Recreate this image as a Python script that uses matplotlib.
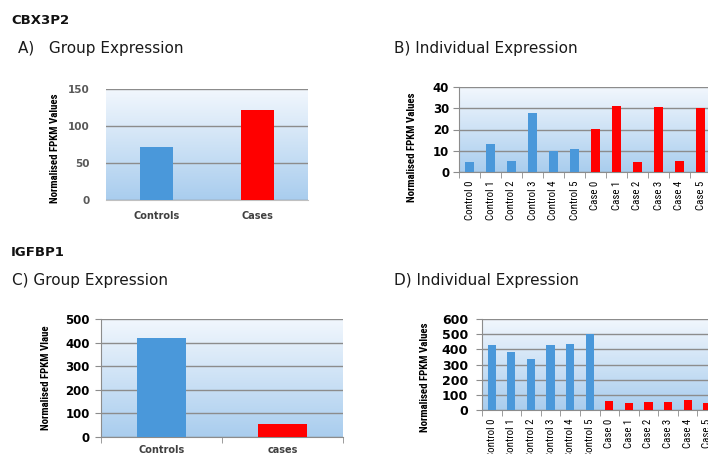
import numpy as np
import matplotlib
matplotlib.use("Agg")
import matplotlib.pyplot as plt
from matplotlib.colors import LinearSegmentedColormap

# ---- data ----
group_labels_a = ["Controls", "Cases"]
group_values_a = [71, 122]

indiv_labels = ["Control 0", "Control 1", "Control 2", "Control 3", "Control 4", "Control 5",
                "Case 0", "Case 1", "Case 2", "Case 3", "Case 4", "Case 5"]
indiv_values_b = [4.7, 13.3, 5.0, 27.8, 10.0, 11.0, 20.4, 31.2, 4.7, 30.4, 5.2, 30.0]

group_labels_c = ["Controls", "cases"]
group_values_c = [418, 57]

indiv_values_d = [429, 385, 335, 429, 436, 501, 59, 46, 53, 53, 66, 46]

BLUE = "#4a98da"
RED = "#ff0000"
GRID = "#8c8c8c"
NARROW = ["Roboto Condensed", "Open Sans Condensed", "DejaVu Sans"]

grad_cmap = LinearSegmentedColormap.from_list("bg", ["#a9cdee", "#f2f7fd"])

W, H = 708, 454
fig = plt.figure(figsize=(W / 100, H / 100), dpi=100)


def px_axes(left, top, right, bottom):
    return fig.add_axes([left / W, 1 - bottom / H, (right - left) / W, (bottom - top) / H])


def gradient(ax):
    g = np.linspace(0, 1, 256).reshape(-1, 1)
    ax.imshow(g, cmap=grad_cmap, origin="lower", aspect="auto",
              extent=[0, 1, 0, 1], transform=ax.transAxes, zorder=0)


def style_common(ax, ymax, step):
    ax.set_ylim(0, ymax)
    ax.set_yticks(np.arange(0, ymax + 1, step))
    ax.yaxis.grid(True, color=GRID, lw=1.0, zorder=1)
    ax.set_axisbelow(False)
    for s in ("top", "right"):
        ax.spines[s].set_visible(False)


# ---- A) group expression, CBX3P2 ----
axA = px_axes(106, 89, 308, 200)
gradient(axA)
xa = np.arange(len(group_labels_a))
axA.bar(xa, group_values_a, width=0.32, color=[BLUE, RED], zorder=3)
axA.set_xlim(-0.5, 1.5)
style_common(axA, 150, 50)
axA.spines["left"].set_visible(False)
axA.spines["bottom"].set_color("#c0c0c0")
axA.set_xticks(xa)
axA.set_xticklabels(group_labels_a, fontsize=7, fontweight="bold", color="#404040")
axA.tick_params(axis="both", length=0)
axA.tick_params(axis="x", pad=8)
axA.tick_params(axis="y", pad=12, labelsize=7.5, labelcolor="#595959")
for t in axA.get_yticklabels():
    t.set_fontweight("bold")


def individual(ax, values, ymax, step, ysize, ypad):
    gradient(ax)
    x = np.arange(len(indiv_labels))
    colors = [BLUE if lab.startswith("Control") else RED for lab in indiv_labels]
    ax.bar(x, values, width=0.42, color=colors, zorder=3)
    ax.set_xlim(-0.5, len(indiv_labels) - 0.5)
    style_common(ax, ymax, step)
    for s in ("left", "bottom"):
        ax.spines[s].set_color(GRID)
    ax.set_xticks(x)
    ax.set_xticklabels(indiv_labels, rotation=90, fontsize=7.8, family=NARROW,
                       fontstretch="condensed")
    ax.set_xticks(np.arange(-0.5, len(indiv_labels)), minor=True)
    ax.tick_params(axis="x", which="major", length=0, pad=6)
    ax.tick_params(axis="x", which="minor", length=4, color=GRID, direction="out")
    ax.tick_params(axis="y", length=4, color=GRID, direction="out", pad=ypad, labelsize=ysize)
    for t in ax.get_yticklabels():
        t.set_fontweight("bold")


# ---- B) individual expression, CBX3P2 ----
axB = px_axes(459, 87, 711, 172)
individual(axB, indiv_values_b, 40, 10, 8.5, 3)

# ---- C) group expression, IGFBP1 ----
axC = px_axes(101, 319, 343, 437)
gradient(axC)
xc = np.arange(len(group_labels_c))
axC.bar(xc, group_values_c, width=0.4, color=[BLUE, RED], zorder=3)
axC.set_xlim(-0.5, 1.5)
style_common(axC, 500, 100)
for s in ("left", "bottom"):
    axC.spines[s].set_color(GRID)
axC.set_xticks(xc)
axC.set_xticklabels(group_labels_c, fontsize=7, fontweight="bold", color="#404040")
axC.set_xticks([-0.5, 0.5, 1.5], minor=True)
axC.tick_params(axis="x", which="major", length=0, pad=6)
axC.tick_params(axis="x", which="minor", length=4, color=GRID)
axC.tick_params(axis="y", length=4, color=GRID, pad=4, labelsize=8.5)
for t in axC.get_yticklabels():
    t.set_fontweight("bold")

# ---- D) individual expression, IGFBP1 ----
axD = px_axes(482, 319, 717, 410)
individual(axD, indiv_values_d, 600, 100, 9, 6)

# ---- y-axis titles ----
ylab_kw = dict(rotation=90, ha="center", va="center", fontsize=7.8,
               fontweight="bold", family=NARROW, fontstretch="condensed")
fig.text(55 / W, 1 - 148 / H, "Normalised FPKM Values", **ylab_kw)
fig.text(412 / W, 1 - 147 / H, "Normalised FPKM Values", **ylab_kw)
fig.text(46 / W, 1 - 378 / H, "Normalised FPKM Vlaue", **ylab_kw)
fig.text(425 / W, 1 - 377 / H, "Normalised FPKM Values", **ylab_kw)

# ---- gene names and panel titles ----
gene_kw = dict(ha="left", va="center", fontsize=9.5, fontweight="bold", color="#111111")
fig.text(11 / W, 1 - 20 / H, "CBX3P2", **gene_kw)
fig.text(11 / W, 1 - 252 / H, "IGFBP1", **gene_kw)

title_kw = dict(ha="left", va="center", fontsize=11, color="#1a1a1a")
fig.text(18 / W, 1 - 49 / H, "A)   Group Expression", **title_kw)
fig.text(394 / W, 1 - 49 / H, "B) Individual Expression", **title_kw)
fig.text(12 / W, 1 - 281 / H, "C) Group Expression", **title_kw)
fig.text(394 / W, 1 - 281 / H, "D) Individual Expression", **title_kw)

fig.savefig("out.png", dpi=100)
